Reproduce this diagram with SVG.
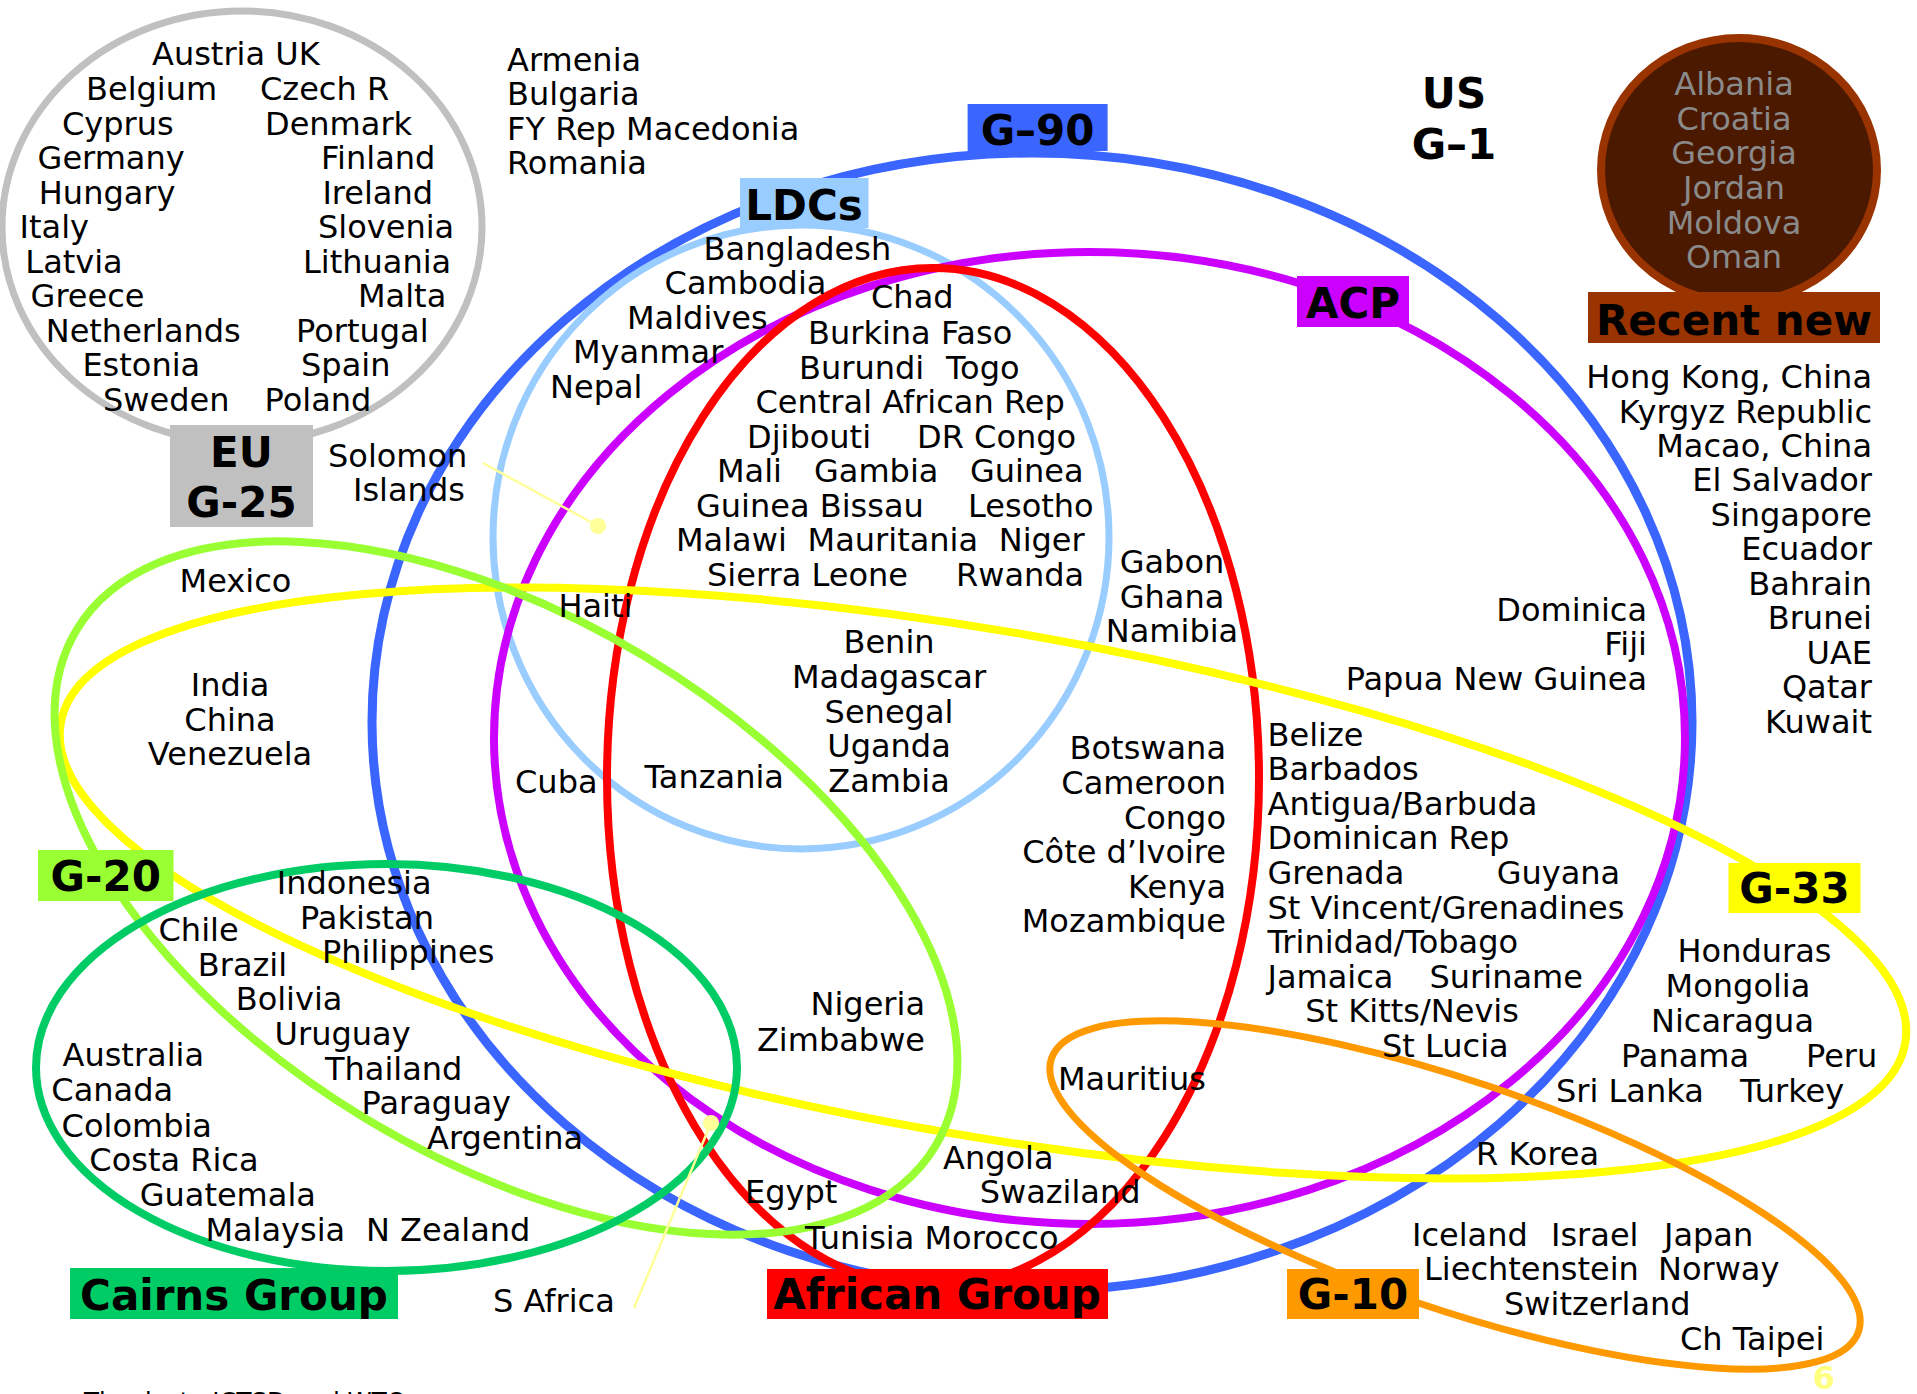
<svg xmlns="http://www.w3.org/2000/svg" width="1917" height="1394" viewBox="0 0 1917 1394">
<style>
.t{font-family:"DejaVu Sans","Verdana",sans-serif;font-size:32px;fill:#000}
.e{text-anchor:end}
.m{text-anchor:middle}
.b{font-family:"DejaVu Sans","Verdana",sans-serif;font-size:42px;font-weight:bold;fill:#000;text-anchor:middle}
.g{fill:#8a8a8a}
.o{fill:none}
.p{stroke:#ffff99;stroke-width:2.5;fill:none}
.d{fill:#ffff99}
</style>
<rect width="1917" height="1394" fill="#fff"/>
<g id="g90"><ellipse class="o" cx="1032" cy="722" rx="660" ry="569" stroke="#3a66ff" stroke-width="9"/></g>
<g id="ldcs"><ellipse class="o" cx="801" cy="537" rx="308" ry="312" stroke="#99ccff" stroke-width="7"/></g>
<g id="acp"><ellipse class="o" cx="1089.5" cy="738" rx="595.5" ry="486" stroke="#cc00ff" stroke-width="8"/></g>
<g id="african"><ellipse class="o" cx="933" cy="778" rx="326" ry="510" stroke="#ff0000" stroke-width="8"/></g>
<g id="g33"><ellipse class="o" cx="983" cy="883" rx="936" ry="252" transform="rotate(9.85 983 883)" stroke="#ffff00" stroke-width="8"/></g>
<g id="g10"><ellipse class="o" cx="1455" cy="1195" rx="426" ry="114" transform="rotate(18.7 1455 1195)" stroke="#ff9900" stroke-width="7"/></g>
<g id="g20"><ellipse class="o" cx="506" cy="888" rx="501" ry="270" transform="rotate(31 506 888)" stroke="#99ff33" stroke-width="8"/></g>
<g id="cairns"><ellipse class="o" cx="386.5" cy="1067.5" rx="350.5" ry="203.5" stroke="#00cc66" stroke-width="8"/></g>
<g id="eu"><ellipse class="o" cx="242" cy="227" rx="240" ry="216" stroke="#c0c0c0" stroke-width="7"/></g>
<g id="recent"><ellipse cx="1739" cy="170" rx="138" ry="132" fill="#4b1900" stroke="#993300" stroke-width="8"/></g>

<g id="connectors">
<line class="p" x1="483" y1="463" x2="598" y2="526"/>
<circle class="d" cx="598" cy="526" r="8"/>
<line class="p" x1="711" y1="1123" x2="634" y2="1308"/>
<circle class="d" cx="711" cy="1123" r="8"/>
</g>

<g id="labels">
<g id="label-eu"><rect x="170" y="425" width="143" height="102" fill="#c0c0c0"/><text class="b" x="241.5" y="467">EU</text><text class="b" x="241.5" y="517">G-25</text></g>
<g id="label-g90"><rect x="967.6" y="104" width="140" height="47" fill="#3a66ff"/><text class="b" x="1037.6" y="145">G–90</text></g>
<g id="label-ldcs"><rect x="740" y="178" width="128.5" height="50" fill="#99ccff"/><text class="b" x="804" y="220">LDCs</text></g>
<g id="label-acp"><rect x="1297" y="276" width="112" height="51" fill="#cc00ff"/><text class="b" x="1353" y="317.5">ACP</text></g>
<g id="label-recent"><rect x="1588" y="292" width="292" height="51" fill="#993300"/><text class="b" x="1734" y="334.5">Recent new</text></g>
<g id="label-g20"><rect x="38" y="850" width="135.5" height="51" fill="#99ff33"/><text class="b" x="105.7" y="890.7">G-20</text></g>
<g id="label-cairns"><rect x="70" y="1268" width="328" height="51" fill="#00cc66"/><text class="b" x="234" y="1310">Cairns Group</text></g>
<g id="label-african"><rect x="767" y="1269" width="341" height="50" fill="#ff0000"/><text class="b" x="937" y="1309">African Group</text></g>
<g id="label-g10"><rect x="1287" y="1269" width="132" height="50" fill="#ff9900"/><text class="b" x="1353" y="1309">G-10</text></g>
<g id="label-g33"><rect x="1728.5" y="863" width="132" height="50" fill="#ffff00"/><text class="b" x="1794.5" y="903">G-33</text></g>
<g id="label-us"><text class="b" x="1454" y="107.6">US</text><text class="b" x="1454" y="158.5">G–1</text></g>
</g>

<g id="members">
<text class="t" x="152" y="65">Austria UK</text>
<text class="t" x="86" y="100">Belgium</text><text class="t" x="260" y="100">Czech R</text>
<text class="t" x="62" y="134.5">Cyprus</text><text class="t" x="265" y="134.5">Denmark</text>
<text class="t" x="37.6" y="169">Germany</text><text class="t" x="321" y="169">Finland</text>
<text class="t" x="38.8" y="203.5">Hungary</text><text class="t" x="322.4" y="203.5">Ireland</text>
<text class="t" x="19.6" y="238">Italy</text><text class="t" x="318" y="238">Slovenia</text>
<text class="t" x="25.3" y="272.5">Latvia</text><text class="t" x="303" y="272.5">Lithuania</text>
<text class="t" x="30.6" y="307">Greece</text><text class="t" x="358" y="307">Malta</text>
<text class="t" x="45.7" y="342">Netherlands</text><text class="t" x="296" y="342">Portugal</text>
<text class="t" x="82.4" y="376">Estonia</text><text class="t" x="301" y="376">Spain</text>
<text class="t" x="103" y="411">Sweden</text><text class="t" x="264.5" y="411">Poland</text>

<text class="t" x="507" y="70.6">Armenia</text>
<text class="t" x="507" y="105">Bulgaria</text>
<text class="t" x="507" y="139.5">FY Rep Macedonia</text>
<text class="t" x="507" y="174">Romania</text>

<text class="t" x="328" y="467">Solomon</text>
<text class="t" x="353" y="501">Islands</text>

<text class="t m g" x="1734" y="94.5">Albania</text>
<text class="t m g" x="1734" y="129.5">Croatia</text>
<text class="t m g" x="1734" y="164">Georgia</text>
<text class="t m g" x="1734" y="198.5">Jordan</text>
<text class="t m g" x="1734" y="233.5">Moldova</text>
<text class="t m g" x="1734" y="268">Oman</text>

<text class="t e" x="1872" y="388">Hong Kong, China</text>
<text class="t e" x="1872" y="422.5">Kyrgyz Republic</text>
<text class="t e" x="1872" y="457">Macao, China</text>
<text class="t e" x="1872" y="491">El Salvador</text>
<text class="t e" x="1872" y="525.5">Singapore</text>
<text class="t e" x="1872" y="560">Ecuador</text>
<text class="t e" x="1872" y="594.5">Bahrain</text>
<text class="t e" x="1872" y="629">Brunei</text>
<text class="t e" x="1872" y="663.5">UAE</text>
<text class="t e" x="1872" y="698">Qatar</text>
<text class="t e" x="1872" y="732.5">Kuwait</text>

<text class="t e" x="1647" y="620.5">Dominica</text>
<text class="t e" x="1647" y="655">Fiji</text>
<text class="t e" x="1647" y="689.5">Papua New Guinea</text>

<text class="t" x="703.6" y="260">Bangladesh</text>
<text class="t" x="664.6" y="294.4">Cambodia</text>
<text class="t" x="627" y="329">Maldives</text>
<text class="t" x="573" y="363.4">Myanmar</text>
<text class="t" x="550" y="398">Nepal</text>
<text class="t" x="871" y="308">Chad</text>
<text class="t" x="808" y="344">Burkina Faso</text>
<text class="t" x="799" y="378.5">Burundi</text><text class="t" x="946" y="378.5">Togo</text>
<text class="t" x="755.5" y="413">Central African Rep</text>
<text class="t" x="747" y="447.5">Djibouti</text><text class="t" x="917" y="447.5">DR Congo</text>
<text class="t" x="717" y="482">Mali</text><text class="t" x="814" y="482">Gambia</text><text class="t" x="970" y="482">Guinea</text>
<text class="t" x="696" y="516.5">Guinea Bissau</text><text class="t" x="968" y="516.5">Lesotho</text>
<text class="t" x="676" y="551">Malawi</text><text class="t" x="807.6" y="551">Mauritania</text><text class="t" x="998.7" y="551">Niger</text>
<text class="t" x="707" y="586">Sierra Leone</text><text class="t" x="956" y="586">Rwanda</text>

<text class="t m" x="1172" y="573">Gabon</text>
<text class="t m" x="1172" y="607.5">Ghana</text>
<text class="t m" x="1172" y="642">Namibia</text>

<text class="t m" x="889" y="653.3">Benin</text>
<text class="t m" x="889" y="688">Madagascar</text>
<text class="t m" x="889" y="722.6">Senegal</text>
<text class="t m" x="889" y="757.3">Uganda</text>
<text class="t m" x="889" y="792">Zambia</text>
<text class="t" x="644.6" y="788">Tanzania</text>

<text class="t e" x="1226" y="759.3">Botswana</text>
<text class="t e" x="1226" y="794">Cameroon</text>
<text class="t e" x="1226" y="828.5">Congo</text>
<text class="t e" x="1226" y="863">Côte d’Ivoire</text>
<text class="t e" x="1226" y="897.6">Kenya</text>
<text class="t e" x="1226" y="932.3">Mozambique</text>

<text class="t" x="1267.5" y="745.5">Belize</text>
<text class="t" x="1267.5" y="780">Barbados</text>
<text class="t" x="1267.5" y="814.7">Antigua/Barbuda</text>
<text class="t" x="1267.5" y="849.3">Dominican Rep</text>
<text class="t" x="1267.5" y="884">Grenada</text><text class="t" x="1496.7" y="884">Guyana</text>
<text class="t" x="1267.5" y="918.5">St Vincent/Grenadines</text>
<text class="t" x="1267.5" y="953">Trinidad/Tobago</text>
<text class="t" x="1267.5" y="987.7">Jamaica</text><text class="t" x="1429.5" y="987.7">Suriname</text>
<text class="t" x="1305.3" y="1022.3">St Kitts/Nevis</text>
<text class="t" x="1382" y="1056.9">St Lucia</text>

<text class="t" x="1677.5" y="961.7">Honduras</text>
<text class="t" x="1665.6" y="997">Mongolia</text>
<text class="t" x="1651" y="1031.7">Nicaragua</text>
<text class="t" x="1621" y="1066.5">Panama</text><text class="t" x="1806" y="1066.5">Peru</text>
<text class="t" x="1556" y="1101.5">Sri Lanka</text><text class="t" x="1740" y="1101.5">Turkey</text>
<text class="t" x="1476" y="1165">R Korea</text>

<text class="t" x="1412" y="1246">Iceland</text><text class="t" x="1551" y="1246">Israel</text><text class="t" x="1664" y="1246">Japan</text>
<text class="t" x="1424" y="1280.3">Liechtenstein</text><text class="t" x="1658" y="1280.3">Norway</text>
<text class="t" x="1504" y="1314.5">Switzerland</text>
<text class="t" x="1680" y="1349.5">Ch Taipei</text>

<text class="t" x="1058" y="1090.4">Mauritius</text>
<text class="t" x="943" y="1169">Angola</text>
<text class="t" x="979.7" y="1203.4">Swaziland</text>
<text class="t" x="745" y="1203.4">Egypt</text>
<text class="t" x="805" y="1249.2">Tunisia Morocco</text>
<text class="t e" x="925" y="1015">Nigeria</text>
<text class="t e" x="925" y="1050.5">Zimbabwe</text>

<text class="t" x="179.6" y="591.7">Mexico</text>
<text class="t m" x="230" y="696">India</text>
<text class="t m" x="230" y="730.7">China</text>
<text class="t m" x="230" y="765">Venezuela</text>
<text class="t" x="558.4" y="616.7">Haiti</text>
<text class="t" x="515" y="793.3">Cuba</text>

<text class="t" x="276.8" y="894">Indonesia</text>
<text class="t" x="300" y="928.5">Pakistan</text>
<text class="t" x="322" y="963">Philippines</text>
<text class="t" x="158.5" y="941">Chile</text>
<text class="t" x="197.8" y="976">Brazil</text>
<text class="t" x="235.7" y="1010">Bolivia</text>
<text class="t" x="274.6" y="1044.5">Uruguay</text>
<text class="t" x="325" y="1080">Thailand</text>
<text class="t" x="361.6" y="1114">Paraguay</text>
<text class="t" x="427" y="1149">Argentina</text>
<text class="t" x="62.5" y="1066">Australia</text>
<text class="t" x="51.3" y="1101">Canada</text>
<text class="t" x="61.6" y="1136.5">Colombia</text>
<text class="t" x="89.3" y="1171">Costa Rica</text>
<text class="t" x="139.7" y="1206">Guatemala</text>
<text class="t" x="205.4" y="1241">Malaysia</text><text class="t" x="366" y="1241">N Zealand</text>
<text class="t" x="493" y="1312">S Africa</text>
</g>

<g id="footer">
<text x="84" y="1410" style="font-family:'DejaVu Sans',sans-serif;font-size:24.5px;fill:#000">Thanks to ICTSD and WTO</text>
<text x="1824" y="1389" style="font-family:'DejaVu Sans',sans-serif;font-size:32px;font-weight:bold;fill:#ffff80;text-anchor:middle">6</text>
</g>
</svg>
